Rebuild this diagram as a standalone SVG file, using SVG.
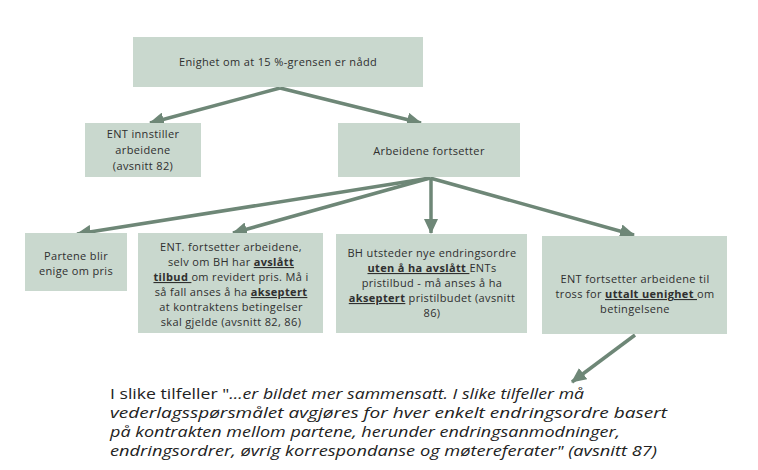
<svg xmlns="http://www.w3.org/2000/svg" width="758" height="470" viewBox="0 0 758 470">
<style>
.box{fill:#c9d8ce;}
.t{font-family:"Open Sans","Noto Sans",sans-serif;font-size:11px;letter-spacing:0.35px;fill:#2f2f2f;text-anchor:middle;}
.b{font-weight:bold;text-decoration:underline;}
.c{stroke:#6e8777;stroke-width:3.5;fill:none;marker-end:url(#ah);}
.p{font-family:"Open Sans","Noto Sans",sans-serif;font-size:15px;fill:#222222;}
.i{font-style:italic;}
</style>
<defs>
<marker id="ah" markerUnits="userSpaceOnUse" markerWidth="16" markerHeight="14" refX="14" refY="7" orient="auto">
<path d="M0,0 L15,7 L0,14 z" fill="#6e8777"/>
</marker>
</defs>
<rect width="758" height="470" fill="#ffffff"/>
<g id="connectors">
<line class="c" x1="280" y1="88" x2="150" y2="123"/>
<line class="c" x1="280" y1="88" x2="421" y2="123"/>
<line class="c" x1="430" y1="178" x2="77" y2="234"/>
<line class="c" x1="430" y1="178" x2="233" y2="233"/>
<line class="c" x1="431" y1="178" x2="431" y2="233"/>
<line class="c" x1="430" y1="178" x2="634" y2="235"/>
<line class="c" x1="635" y1="335" x2="572" y2="382"/>
</g>
<g id="n1">
<rect class="box" x="133" y="37" width="290" height="50"/>
<text class="t" x="278" y="66">Enighet om at 15 %-grensen er nådd</text>
</g>
<g id="n2">
<rect class="box" x="85" y="123" width="116" height="54"/>
<text class="t" x="143" y="138">ENT innstiller</text>
<text class="t" x="143" y="154">arbeidene</text>
<text class="t" x="143" y="170">(avsnitt 82)</text>
</g>
<g id="n3">
<rect class="box" x="338" y="123" width="182" height="54"/>
<text class="t" x="429" y="155">Arbeidene fortsetter</text>
</g>
<g id="n4">
<rect class="box" x="25" y="233" width="102" height="58"/>
<text class="t" x="76" y="260">Partene blir</text>
<text class="t" x="76" y="275">enige om pris</text>
</g>
<g id="n5">
<rect class="box" x="138" y="233" width="185" height="100"/>
<text class="t" x="231" y="251">ENT. fortsetter arbeidene,</text>
<text class="t" x="231" y="266">selv om BH har <tspan class="b">avslått</tspan></text>
<text class="t" x="231" y="281"><tspan class="b">tilbud </tspan>om revidert pris. Må i</text>
<text class="t" x="231" y="296">så fall anses å ha <tspan class="b">akseptert</tspan></text>
<text class="t" x="231" y="311">at kontraktens betingelser</text>
<text class="t" x="231" y="326">skal gjelde (avsnitt 82, 86)</text>
</g>
<g id="n6">
<rect class="box" x="336" y="234" width="191" height="99"/>
<text class="t" x="432" y="257">BH utsteder nye endringsordre</text>
<text class="t" x="432" y="272"><tspan class="b">uten å ha avslått </tspan>ENTs</text>
<text class="t" x="432" y="287">pristilbud - må anses å ha</text>
<text class="t" x="432" y="302"><tspan class="b">akseptert</tspan> pristilbudet (avsnitt</text>
<text class="t" x="432" y="317">86)</text>
</g>
<g id="n7">
<rect class="box" x="542" y="236" width="185" height="98"/>
<text class="t" x="635" y="283">ENT fortsetter arbeidene til</text>
<text class="t" x="635" y="298">tross for <tspan class="b">uttalt uenighet </tspan>om</text>
<text class="t" x="635" y="313">betingelsene</text>
</g>
<g id="note">
<text class="p" x="110" y="399" textLength="474" lengthAdjust="spacingAndGlyphs">I slike tilfeller "<tspan class="i">…er bildet mer sammensatt. I slike tilfeller må</tspan></text>
<text class="p i" x="110" y="418" textLength="557" lengthAdjust="spacingAndGlyphs">vederlagsspørsmålet avgjøres for hver enkelt endringsordre basert</text>
<text class="p i" x="110" y="437" textLength="510" lengthAdjust="spacingAndGlyphs">på kontrakten mellom partene, herunder endringsanmodninger,</text>
<text class="p i" x="110" y="456" textLength="547" lengthAdjust="spacingAndGlyphs">endringsordrer, øvrig korrespondanse og møtereferater" (avsnitt 87)</text>
</g>
</svg>
